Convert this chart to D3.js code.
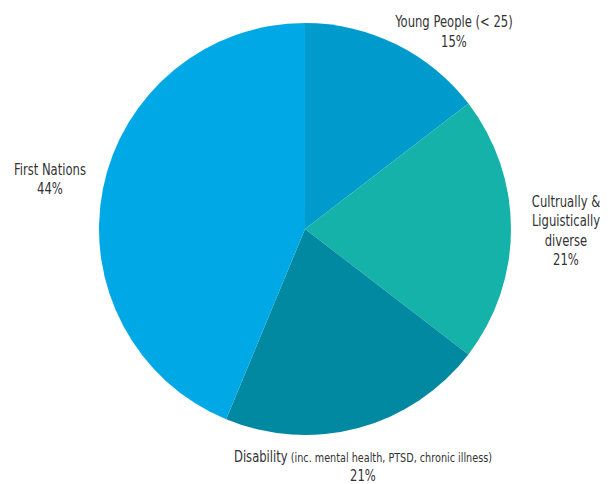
<!DOCTYPE html>
<html>
<head>
<meta charset="utf-8">
<script src="https://d3js.org/d3.v7.min.js"></script>
<style>
  body { margin: 0; background: #fff; }
  svg text { font-family: "DejaVu Sans Condensed", "DejaVu Sans", sans-serif; fill: #333; }
</style>
</head>
<body>
<svg width="612" height="484"></svg>
<script>
// Chart data, clockwise from 12 o'clock
var categories = ['Young People', 'Cultrually & Liguistically diverse', 'Disability', 'First Nations'];
var values = [7, 10, 10, 21];
var percentLabels = ['15%', '21%', '21%', '44%'];
var colors = ['#009bcd', '#15b2aa', '#0089a0', '#00a9e6'];

var svg = d3.select('svg');
var cx = 305, cy = 229, radius = 206;

var chartG = svg.append('g')
    .attr('transform', 'translate(' + [cx, cy] + ')');

var pie = d3.pie().sort(null).value(function(d) { return d; });
var arcs = pie(values);

var arc = d3.arc().innerRadius(0).outerRadius(radius);

chartG.selectAll('.slice')
    .data(arcs)
    .enter()
    .append('path')
    .attr('class', 'slice')
    .attr('d', arc)
    .attr('fill', function(d, i) { return colors[i]; });

// label placement: distance from centre and small nudges per slice
var labelDist = [245, 261, 243, 258];
var nudge = [[40.6, 22.5], [0, 2], [-4.9, 3], [-2, 1]];
var lineH = 19.5;
var squeeze = 0.86; // condensed look

// text lines for each label (last line is the percentage)
var labelLines = [
    [{t: 'Young People (< 25)'}],
    [{t: 'Cultrually &'}, {t: 'Liguistically'}, {t: 'diverse'}],
    [{t: 'Disability', sub: ' (inc. mental health, PTSD, chronic illness)'}],
    [{t: 'First Nations'}]
];

arcs.forEach(function(d, i) {
    var mid = (d.startAngle + d.endAngle) / 2;
    var x = Math.sin(mid) * labelDist[i] + nudge[i][0];
    var y = -Math.cos(mid) * labelDist[i] + nudge[i][1];
    var lines = labelLines[i].concat([{t: percentLabels[i]}]);
    var y0 = -(lines.length - 1) * lineH / 2 + 5;

    var txt = chartG.append('text')
        .attr('transform', 'translate(' + [x, y] + ') scale(' + squeeze + ',1)')
        .attr('text-anchor', 'middle')
        .style('font-size', '15px');

    lines.forEach(function(l, j) {
        txt.append('tspan')
            .attr('x', 0)
            .attr('y', y0 + j * lineH)
            .text(l.t);
        if (l.sub) {
            txt.append('tspan')
                .style('font-size', '12.5px')
                .text(l.sub);
        }
    });
});
</script>
</body>
</html>
